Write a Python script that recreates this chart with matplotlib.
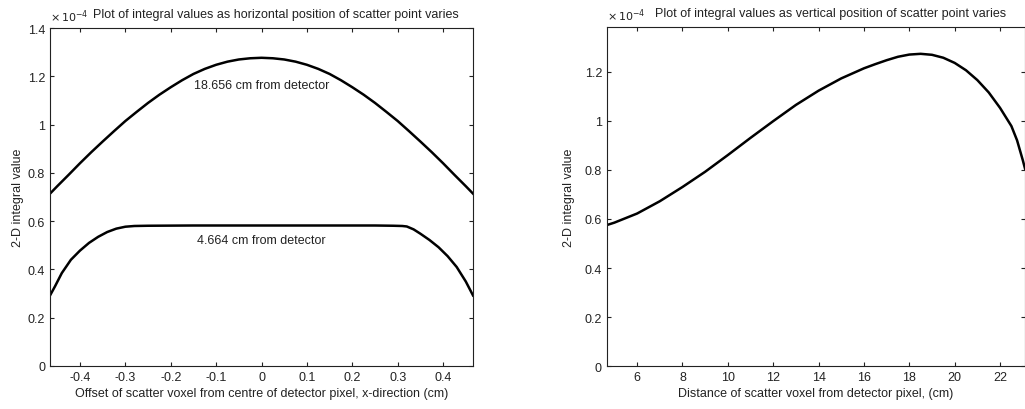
import numpy as np
import matplotlib
matplotlib.use('Agg')
import matplotlib.pyplot as plt
from matplotlib.ticker import FuncFormatter

plt.rcParams['font.family'] = ['Liberation Sans', 'DejaVu Sans']
plt.rcParams['axes.unicode_minus'] = False

# values in units of 1e-4
# left panel: integral vs horizontal offset (cm)
offset_far = [-0.466, -0.45, -0.425, -0.40, -0.375, -0.35, -0.325, -0.30, -0.275, -0.25, -0.225,
              -0.20, -0.175, -0.15, -0.125, -0.10, -0.075, -0.05, -0.025, 0.00,
              0.025, 0.05, 0.075, 0.10, 0.125, 0.15, 0.175, 0.20, 0.225, 0.25, 0.275,
              0.30, 0.325, 0.35, 0.375, 0.40, 0.425, 0.45, 0.466]
value_far = [0.714, 0.745, 0.792, 0.840, 0.886, 0.930, 0.973, 1.015, 1.053, 1.090, 1.124,
             1.155, 1.184, 1.210, 1.231, 1.248, 1.261, 1.270, 1.275, 1.277,
             1.275, 1.270, 1.261, 1.248, 1.231, 1.210, 1.184, 1.155, 1.124, 1.090, 1.053,
             1.015, 0.973, 0.930, 0.886, 0.840, 0.792, 0.745, 0.714]

offset_near = [-0.466, -0.455, -0.44, -0.42, -0.40, -0.38, -0.36, -0.34, -0.32, -0.30, -0.28,
               -0.25, -0.15, 0.00, 0.15, 0.25, 0.29, 0.31, 0.32, 0.335, 0.35, 0.37, 0.39,
               0.41, 0.43, 0.45, 0.466]
value_near = [0.292, 0.330, 0.385, 0.440, 0.478, 0.510, 0.535, 0.555, 0.569, 0.577, 0.580,
              0.581, 0.582, 0.582, 0.582, 0.582, 0.581, 0.580, 0.578, 0.566, 0.548, 0.522, 0.492,
              0.455, 0.410, 0.350, 0.292]

# right panel: integral vs distance from detector (cm)
distance = [4.664, 5, 6, 7, 8, 9, 10, 11, 12, 13, 14, 15, 16, 16.5, 17, 17.5, 18, 18.5, 19,
            19.5, 20, 20.5, 21, 21.5, 22, 22.5, 22.75, 23, 23.1]
value_dist = [0.575, 0.585, 0.622, 0.672, 0.730, 0.792, 0.860, 0.930, 0.998, 1.064, 1.122, 1.172,
              1.213, 1.230, 1.246, 1.260, 1.269, 1.272, 1.268, 1.256, 1.235, 1.205, 1.165, 1.115,
              1.052, 0.978, 0.920, 0.840, 0.805]

txt = '#222222'
fs = 9

fig = plt.figure(figsize=(10.25, 4.10), dpi=100)
ax1 = fig.add_axes([0.0488, 0.105, 0.4127, 0.824])
ax2 = fig.add_axes([0.592, 0.104, 0.408, 0.827])

fmt = FuncFormatter(lambda v, p: '%g' % (round(v, 3) + 0.0))

for ax in (ax1, ax2):
    ax.tick_params(direction='in', top=True, right=True, labelsize=fs, colors=txt, length=3, width=0.8)
    for s in ax.spines.values():
        s.set_linewidth(0.8)
        s.set_color('#222222')
    ax.xaxis.set_major_formatter(fmt)
    ax.yaxis.set_major_formatter(fmt)
    ax.set_ylabel('2-D integral value', fontsize=fs, color=txt)
    ax.text(0.0, 1.012, r'$\times\,10^{-4}$', transform=ax.transAxes, fontsize=8, color=txt,
            ha='left', va='bottom')

ax1.plot(offset_far, value_far, color='black', lw=1.8)
ax1.plot(offset_near, value_near, color='black', lw=1.8)
ax1.set_xlim(-0.466, 0.466)
ax1.set_ylim(0, 1.4)
ax1.set_xticks(np.arange(-0.4, 0.41, 0.1))
ax1.set_yticks(np.arange(0, 1.41, 0.2))
ax1.text(0.0, 1.166, '18.656 cm from detector', fontsize=fs, color=txt, ha='center', va='center')
ax1.text(0.0, 0.524, '4.664 cm from detector', fontsize=fs, color=txt, ha='center', va='center')
ax1.text(0.535, 1.025, 'Plot of integral values as horizontal position of scatter point varies',
         transform=ax1.transAxes, fontsize=fs, color=txt, ha='center', va='bottom')
ax1.set_xlabel('Offset of scatter voxel from centre of detector pixel, x-direction (cm)',
               fontsize=fs, color=txt, labelpad=3)
ax1.yaxis.set_label_coords(-0.062, 0.5)

ax2.plot(distance, value_dist, color='black', lw=1.8)
ax2.set_xlim(4.664, 23.1)
ax2.set_ylim(0, 1.38)
ax2.set_xticks(np.arange(6, 23, 2))
ax2.set_yticks(np.arange(0, 1.21, 0.2))
ax2.text(0.535, 1.025, 'Plot of integral values as vertical position of scatter point varies',
         transform=ax2.transAxes, fontsize=fs, color=txt, ha='center', va='bottom')
ax2.set_xlabel('Distance of scatter voxel from detector pixel, (cm)', fontsize=fs, color=txt, labelpad=3)
ax2.yaxis.set_label_coords(-0.075, 0.5)

fig.savefig('out.png', dpi=100)
